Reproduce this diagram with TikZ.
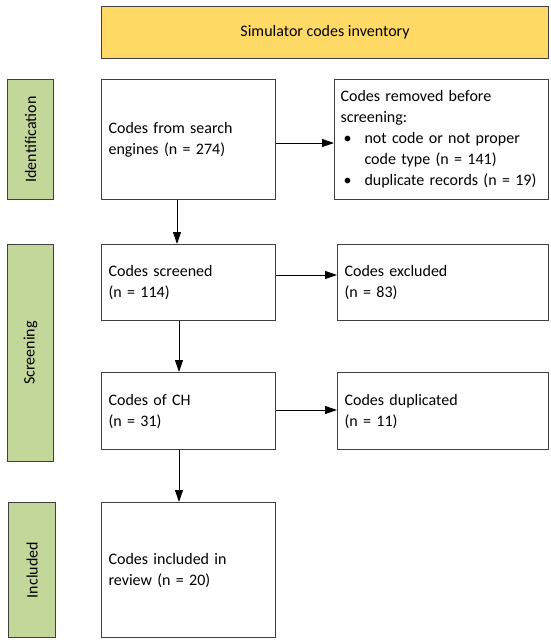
\documentclass[tikz,border=0pt]{standalone}
\usepackage{fontspec}
\setmainfont{Carlito}
\usetikzlibrary{arrows.meta}
\definecolor{boxgold}{HTML}{FFD966}
\definecolor{boxgreen}{HTML}{C4D79B}
\definecolor{edgegray}{HTML}{404040}
\tikzset{
  every node/.style={font=\fontsize{16}{21}\selectfont},
  box/.style={draw=edgegray, line width=1.1pt, anchor=north west, inner xsep=7pt, inner ysep=0pt, align=left},
  stage/.style={draw=edgegray, line width=1.1pt, fill=boxgreen, anchor=north west, inner sep=0pt},
  arr/.style={-{Triangle[length=12pt,width=8pt]}, line width=1pt, black},
}
\begin{document}
\begin{tikzpicture}[x=1pt,y=-1pt]
\useasboundingbox (0,0) rectangle (550,643);
% top
\node[box, fill=boxgold, minimum width=447pt, minimum height=52pt, align=center] (top) at (101,6) {Simulator codes inventory};
% stages
\node[stage, minimum width=46pt, minimum height=120pt] (sid) at (7,79) {};
\node[rotate=90] (lid) at (sid.center) {Identification};
\node[stage, minimum width=46pt, minimum height=217pt] (ssc) at (7,244) {};
\node[rotate=90] (lsc) at (ssc.center) {Screening};
\node[stage, minimum width=47pt, minimum height=135pt] (sin) at (8,502) {};
\node[rotate=90] (lin) at (sin.center) {Included};
% main column
\node[box, minimum width=174pt, minimum height=120pt, text width=160pt] (A) at (101,79) {Codes from search\\engines (n = 274)};
\node[box, minimum width=174pt, minimum height=76pt, text width=160pt] (C) at (101,244) {Codes screened\\(n = 114)};
\node[box, minimum width=174pt, minimum height=77pt, text width=160pt] (E) at (101,372) {Codes of CH\\(n = 31)};
\node[box, minimum width=174pt, minimum height=135pt, text width=160pt] (G) at (101,502) {Codes included in\\review (n = 20)};
% side column
\node[box, inner xsep=6pt, minimum width=214pt, minimum height=120pt, text width=202pt] (B) at (334,79) {Codes removed before\\screening:\\\makebox[24pt][l]{\hspace{3pt}\textbullet}not code or not proper\\\hspace*{24pt}code type (n = 141)\\\makebox[24pt][l]{\hspace{3pt}\textbullet}duplicate records (n = 19)};
\node[box, minimum width=211pt, minimum height=76pt, text width=197pt] (D) at (337,244) {Codes excluded\\(n = 83)};
\node[box, minimum width=211pt, minimum height=77pt, text width=197pt] (F) at (337,372) {Codes duplicated\\(n = 11)};
% connectors
\draw[arr] (A.east |- 0,143) -- (B.west |- 0,143);
\draw[arr] (C.east |- 0,275) -- (D.west |- 0,275);
\draw[arr] (E.east |- 0,410) -- (F.west |- 0,410);
\draw[arr] (A.south -| 177,0) -- (C.north -| 177,0);
\draw[arr] (C.south -| 179,0) -- (E.north -| 179,0);
\draw[arr] (E.south -| 179,0) -- (G.north -| 179,0);
\end{tikzpicture}
\end{document}
